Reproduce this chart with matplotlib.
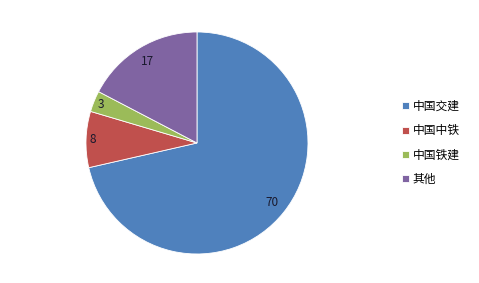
import matplotlib
matplotlib.use("Agg")
import matplotlib.pyplot as plt
import numpy as np

plt.rcParams['font.family'] = ['Noto Sans CJK SC', 'DejaVu Sans']

categories = ["中国交建", "中国中铁", "中国铁建", "其他"]
values = [70, 8, 3, 17]
colors = ["#4F81BD", "#C0504D", "#9BBB59", "#8064A2"]
label_dist = [0.86, 0.94, 0.93, 0.86]

fig = plt.figure(figsize=(4.79, 2.83), dpi=100)
ax = fig.add_axes([0.1795, 0.1025, 0.4635, 0.7845])
wedges, _ = ax.pie(values, colors=colors, startangle=90, counterclock=False,
                   wedgeprops=dict(edgecolor="white", linewidth=0.6))
for w, v, d in zip(wedges, values, label_dist):
    ang = np.deg2rad((w.theta1 + w.theta2) / 2)
    ax.text(d * np.cos(ang), d * np.sin(ang), str(v), ha="center", va="center",
            fontsize=8.5, color="#1a1a2e")
ax.set_aspect("equal")
ax.set_xlim(-1.0, 1.0)
ax.set_ylim(-1.0, 1.0)

fig.legend(wedges, categories, loc="center left", bbox_to_anchor=(0.818, 0.495),
           frameon=False, fontsize=8.5, handlelength=0.55, handleheight=0.55,
           handletextpad=0.3, labelspacing=0.95)
fig.savefig("out.png", dpi=100)
